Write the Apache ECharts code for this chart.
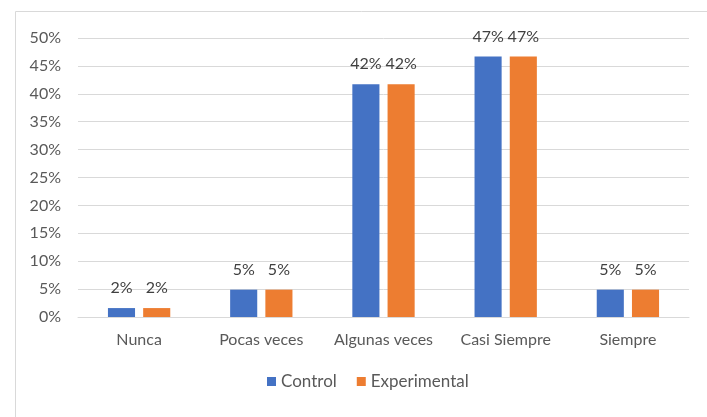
<!DOCTYPE html>
<html lang="es">
<head>
    <meta charset="UTF-8">
    <title>Control vs Experimental</title>
    <script src="https://cdn.jsdelivr.net/npm/echarts@6/dist/echarts.min.js"></script>
    <style>
        html, body { margin: 0; padding: 0; background: #fff; }
        #main { width: 707px; height: 417px; }
    </style>
</head>
<body>
<div id="main"></div>
<script>
    // datos
    var categorias = ['Nunca', 'Pocas veces', 'Algunas veces', 'Casi Siempre', 'Siempre'];
    var control = [1.6, 4.9, 41.7, 46.7, 4.9];
    var experimental = [1.6, 4.9, 41.7, 46.7, 4.9];
    var etiquetas = ['2%', '5%', '42%', '47%', '5%'];

    var fuente = 'Lato, "Open Sans", sans-serif';
    var myChart = echarts.init(document.getElementById('main'));

    function serie(nombre, datos, color) {
        return {
            name: nombre,
            type: 'bar',
            data: datos,
            barGap: '30%',
            barCategoryGap: '49%',
            itemStyle: { color: color },
            label: {
                show: true,
                position: 'top',
                distance: 12,
                color: '#404040',
                fontFamily: fuente,
                fontSize: 16,
                formatter: function (p) { return etiquetas[p.dataIndex]; }
            }
        };
    }

    var option = {
        animation: false,
        graphic: [{
            type: 'rect',
            left: 13, top: 9,
            shape: { width: 710, height: 420 },
            style: { fill: 'none', stroke: '#d9d9d9', lineWidth: 1 }
        }],
        grid: { left: 78, right: 18, top: 38, bottom: 100, containLabel: false },
        legend: {
            bottom: 22,
            left: 262,
            itemWidth: 9,
            itemHeight: 9,
            itemGap: 20,
            icon: 'rect',
            textStyle: { color: '#595959', fontFamily: fuente, fontSize: 17 }
        },
        xAxis: {
            type: 'category',
            data: categorias,
            axisLine: { lineStyle: { color: '#d9d9d9' } },
            axisTick: { show: false },
            axisLabel: { interval: 0, hideOverlap: false, color: '#595959', fontFamily: fuente, fontSize: 16, margin: 15 }
        },
        yAxis: {
            type: 'value',
            min: 0,
            max: 50,
            interval: 5,
            axisLine: { show: false },
            axisTick: { show: false },
            axisLabel: { color: '#595959', fontFamily: fuente, fontSize: 16, margin: 17, formatter: '{value}%' },
            splitLine: { lineStyle: { color: '#d9d9d9', width: 1 } }
        },
        series: [
            serie('Control', control, '#4472c4'),
            serie('Experimental', experimental, '#ed7d31')
        ]
    };

    myChart.setOption(option);
</script>
</body>
</html>
